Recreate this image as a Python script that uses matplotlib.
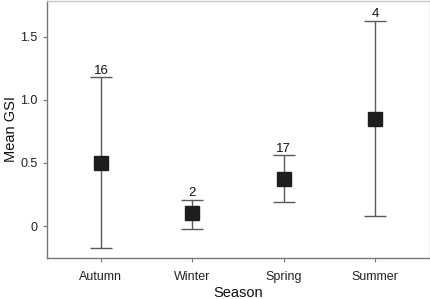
import matplotlib
matplotlib.use("Agg")
import matplotlib.pyplot as plt

seasons = ["Autumn", "Winter", "Spring", "Summer"]
means = [0.50, 0.10, 0.37, 0.85]
upper = [1.18, 0.21, 0.56, 1.63]
lower = [-0.175, -0.02, 0.19, 0.08]
counts = ["16", "2", "17", "4"]

plt.rcParams['font.family'] = ['Liberation Sans', 'DejaVu Sans']

fig = plt.figure(figsize=(4.31, 2.99), dpi=100)
ax = fig.add_axes([0.109, 0.137, 0.889, 0.860])

x = list(range(len(seasons)))
err_lo = [m - l for m, l in zip(means, lower)]
err_hi = [u - m for m, u in zip(means, upper)]
ax.errorbar(x, means, yerr=[err_lo, err_hi], fmt='none', ecolor='#5a5a5a',
            elinewidth=1.0, capsize=8, capthick=1.0, zorder=2)
ax.plot(x, means, 's', color='#1e1e1e', markersize=10.5, zorder=3)
for xi, u, c in zip(x, upper, counts):
    ax.annotate(c, (xi, u), xytext=(0, 0.5), textcoords='offset points',
                ha='center', va='bottom', fontsize=9.5, color='#111111')

ax.set_xlim(-0.59, 3.6)
ax.set_ylim(-0.254, 1.786)
ax.set_xticks(x)
ax.set_xticklabels(seasons)
ax.set_yticks([0, 0.5, 1.0, 1.5])
ax.set_yticklabels(["0", "0.5", "1.0", "1.5"])
ax.tick_params(axis='both', labelsize=9, labelcolor='#222222', length=3, width=0.8,
               color='#777777')
ax.tick_params(axis='y', pad=4)
ax.tick_params(axis='x', pad=6)
ax.set_xlabel("Season", fontsize=10.5, color='#111111')
ax.set_ylabel("Mean GSI", fontsize=10.5, color='#111111')
ax.yaxis.set_label_coords(-0.076, 0.5)
ax.xaxis.set_label_coords(0.5, -0.108)

for s in ['left', 'bottom']:
    ax.spines[s].set_color('#777777')
    ax.spines[s].set_linewidth(1.0)
for s in ['top', 'right']:
    ax.spines[s].set_color('#c8c8c8')
    ax.spines[s].set_linewidth(1.0)

fig.savefig("out.png", dpi=100)
